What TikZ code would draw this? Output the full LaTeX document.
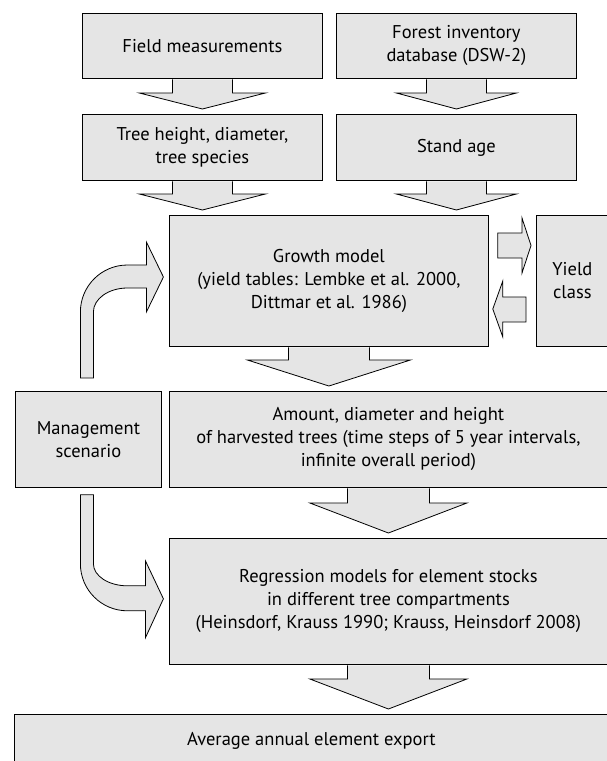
\documentclass[tikz,border=0pt]{standalone}
\usepackage{fontspec}
\setmainfont{PT Sans}
\usetikzlibrary{calc}

\tikzset{
  stage/.style={draw=black, line width=0.8pt, fill=black!10, align=center,
    inner sep=0pt, anchor=north west, font=\fontsize{18.5}{23}\selectfont},
  blockarrow/.style={draw=black, line width=0.8pt, fill=black!10}
}

% straight block arrow pointing down: source, target, shaft half, head half, head length
\newcommand{\blockdown}[5]{%
  \path[blockarrow] let \p1=(#1.south), \p2=(#2.north) in
    (\x1-#3,\y1-0.5pt) -- (\x1-#3,\y2+5pt+#5) -- (\x1-#4,\y2+5pt+#5) -- (\x1,\y2+5pt)
    -- (\x1+#4,\y2+5pt+#5) -- (\x1+#3,\y2+5pt+#5) -- (\x1+#3,\y1-0.5pt);
}

\begin{document}
\begin{tikzpicture}[x=1pt, y=-1pt]
      \useasboundingbox (0,0) rectangle (606,761);
      % Input boxes
      \node[stage, minimum width=240pt, minimum height=65pt] (field) at (82,13) {Field measurements};
      \node[stage, minimum width=240pt, minimum height=65pt] (forest) at (336,13) {Forest inventory\\database (DSW-2)};
      \node[stage, minimum width=240pt, minimum height=66pt] (tree) at (82,114) {Tree height, diameter,\\tree species};
      \node[stage, minimum width=240pt, minimum height=66pt] (stand) at (336,114) {Stand age};
      % Model boxes
      \node[stage, minimum width=319pt, minimum height=131pt] (growth) at (169,215) {Growth model\\(yield tables: Lembke et al. 2000,\\Dittmar et al. 1986)};
      \node[stage, minimum width=72pt, minimum height=131pt] (yield) at (536,215) {Yield\\class};
      \node[stage, minimum width=146pt, minimum height=96pt] (mgmt) at (15,391) {Management\\scenario};
      \node[stage, minimum width=438pt, minimum height=96pt] (amount) at (169,391) {Amount, diameter and height\\of harvested trees (time steps of 5 year intervals,\\infinite overall period)};
      \node[stage, minimum width=438pt, minimum height=126pt] (regr) at (169,538) {Regression models for element stocks\\in different tree compartments\\(Heinsdorf, Krauss 1990; Krauss, Heinsdorf 2008)};
      \node[stage, minimum width=594pt, minimum height=52pt] (export) at (14,714) {Average annual element export};
      % Arrows down
      \blockdown{field}{tree}{30pt}{63pt}{16pt}
      \blockdown{forest}{stand}{30pt}{60pt}{16pt}
      \blockdown{tree}{growth}{30pt}{63pt}{16pt}
      \blockdown{stand}{growth}{30pt}{60pt}{16pt}
      \blockdown{growth}{amount}{40.5pt}{81.5pt}{26pt}
      \blockdown{amount}{regr}{41pt}{78.5pt}{30pt}
      \blockdown{regr}{export}{41pt}{78.5pt}{30pt}
      % Arrows to and from yield class
      \path[blockarrow] let \p1=(growth.north east), \p2=(yield.west) in
        (\x1+9pt,\y1-18pt) -- (\x2-14pt,\y1-18pt) -- (\x2-14pt,\y1-3pt) -- (\x2-5pt,\y1-30.5pt)
        -- (\x2-14pt,\y1-58pt) -- (\x2-14pt,\y1-43pt) -- (\x1+9pt,\y1-43pt) -- cycle;
      \path[blockarrow] let \p1=(growth.north east), \p2=(yield.west) in
        (\x2-10pt,\y1-82pt) -- (\x1+14pt,\y1-82pt) -- (\x1+14pt,\y1-66pt) -- (\x1+4pt,\y1-94pt)
        -- (\x1+14pt,\y1-122pt) -- (\x1+14pt,\y1-107pt) -- (\x2-10pt,\y1-107pt) -- cycle;
      % Bent arrows from management scenario
      \coordinate (up0) at ($(mgmt.north)+(-8,-13)$);
      \coordinate (lo0) at ($(mgmt.south)+(-8,7)$);
      \path[blockarrow] (up0) -- ++(0,-66) arc[start angle=180, end angle=270, radius=47]
        -- ++(19,0) -- ++(0,-23) -- ++(17,35) -- ++(-17,35) -- ++(0,-24) -- ++(-19,0)
        arc[start angle=270, end angle=180, x radius=34, y radius=24] -- ++(0,66) -- cycle;
      \path[blockarrow] (lo0) -- ++(0,69) arc[start angle=180, end angle=90, radius=47]
        -- ++(18,0) -- ++(0,27) -- ++(18,-39) -- ++(-18,-38) -- ++(0,25) -- ++(-18,0)
        arc[start angle=90, end angle=180, x radius=34, y radius=22] -- ++(0,-69) -- cycle;
    \end{tikzpicture}
\end{document}
